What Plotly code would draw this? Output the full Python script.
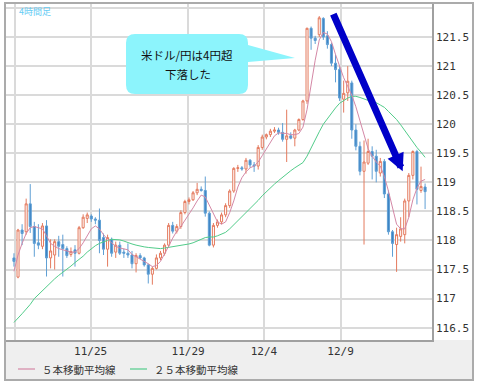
import plotly.graph_objects as go

# ---------------- data ----------------
opens = [117.70,117.37,118.18,118.15,118.63,118.24,117.96,117.90,118.25,117.70,
         117.75,117.98,117.93,117.86,117.76,117.84,117.78,118.22,118.38,118.42,
         118.37,118.35,118.05,117.85,118.02,117.80,117.92,117.80,117.78,117.75,
         117.60,117.74,117.70,117.58,117.42,117.52,117.70,117.78,117.92,118.26,
         118.16,118.24,118.48,118.67,118.70,118.82,118.88,118.86,118.47,117.92,
         118.26,118.32,118.44,118.60,118.85,119.24,119.25,119.23,119.38,119.30,
         119.28,119.60,119.78,119.82,119.88,119.90,119.86,119.74,119.80,119.76,
         119.90,120.08,120.40,121.65,121.48,121.54,121.82,121.52,121.37,121.05,
         120.94,120.43,120.54,120.71,119.90,119.62,119.19,119.33,119.53,119.45,
         119.16,119.36,118.80,118.15,117.93,118.07,118.10,118.68,119.12,119.53,
         118.86,118.92]
highs = [117.78,118.20,118.28,118.72,118.97,118.32,118.28,118.30,118.35,118.02,
         118.02,118.08,118.10,117.90,117.88,117.92,118.25,118.45,118.48,118.45,
         118.40,118.55,118.12,118.10,118.05,117.98,117.98,117.86,117.95,117.82,
         117.78,117.78,117.72,117.60,117.55,117.76,117.82,117.95,118.30,118.32,
         118.28,118.52,118.70,118.74,118.85,118.99,118.93,119.10,118.50,118.30,
         118.36,118.48,118.64,118.88,119.26,119.30,119.28,119.42,119.40,119.35,
         119.64,119.82,119.84,119.92,119.95,119.94,120.02,120.25,119.86,119.92,
         120.10,120.42,121.66,121.68,121.52,121.86,121.84,121.60,121.40,121.20,
         121.00,120.75,121.00,120.75,120.00,119.70,119.72,119.75,119.62,119.56,
         119.42,119.40,118.86,118.18,118.22,118.40,118.72,119.16,119.55,119.56,
         119.27,118.98]
lows = [117.55,117.35,117.92,118.10,118.13,117.72,117.85,117.85,117.38,117.52,
        117.50,117.72,117.38,117.70,117.72,117.55,117.76,118.20,118.30,118.32,
        118.28,117.78,117.75,117.55,117.72,117.70,117.75,117.70,117.70,117.52,
        117.45,117.68,117.55,117.26,117.24,117.50,117.66,117.74,117.88,118.12,
        118.12,118.20,118.45,118.62,118.68,118.78,118.84,118.41,117.90,117.88,
        118.22,118.28,118.40,118.56,118.82,119.18,119.20,119.15,119.25,119.18,
        119.22,119.56,119.74,119.78,119.85,119.82,119.70,119.35,119.74,119.62,
        119.88,120.06,120.35,121.28,121.38,121.50,121.45,121.30,121.00,120.72,
        120.40,120.20,120.40,119.75,119.55,119.12,117.93,119.30,119.05,119.00,
        119.10,118.73,118.10,117.72,117.46,117.98,117.95,118.40,119.05,118.62,
        118.82,118.54]
closes = [117.64,118.18,118.12,118.63,118.24,117.95,117.92,118.25,117.70,117.82,
          117.98,117.90,117.86,117.74,117.81,117.78,118.22,118.40,118.44,118.37,
          118.35,118.00,117.85,118.05,117.78,117.92,117.78,117.78,117.75,117.60,
          117.74,117.70,117.58,117.42,117.52,117.70,117.78,117.92,118.26,118.16,
          118.24,118.48,118.67,118.70,118.82,118.88,118.86,118.47,117.92,118.26,
          118.32,118.44,118.60,118.85,119.24,119.25,119.23,119.38,119.30,119.28,
          119.60,119.78,119.82,119.88,119.90,119.86,119.74,119.80,119.76,119.90,
          120.08,120.40,121.65,121.48,121.44,121.83,121.50,121.37,121.05,120.94,
          120.45,120.53,120.74,119.90,119.62,119.19,119.35,119.53,119.45,119.19,
          119.36,118.80,118.15,117.95,118.10,118.20,118.68,119.12,119.53,118.88,
          118.93,118.84]
ma5 = [117.47,117.75,117.95,118.12,118.22,118.24,118.22,118.20,118.08,117.95,
       117.90,117.86,117.84,117.82,117.80,117.80,117.86,117.96,118.08,118.20,
       118.25,118.20,118.10,118.02,117.96,117.90,117.87,117.85,117.84,117.76,
       117.72,117.68,117.65,117.60,117.55,117.57,117.64,117.76,117.90,118.04,
       118.16,118.24,118.34,118.45,118.56,118.68,118.78,118.75,118.60,118.45,
       118.32,118.28,118.32,118.48,118.68,118.92,119.08,119.18,119.25,119.28,
       119.35,119.46,119.58,119.70,119.80,119.85,119.85,119.84,119.82,119.82,
       119.84,119.95,120.25,120.70,121.10,121.45,121.58,121.55,121.42,121.20,
       121.00,120.80,120.65,120.50,120.30,120.05,119.80,119.58,119.45,119.35,
       119.28,119.10,118.85,118.55,118.28,118.20,118.20,118.40,118.70,118.90,
       119.02,119.05]
ma25 = [116.59,116.66,116.74,116.82,116.90,117.00,117.07,117.13,117.20,117.28,
        117.34,117.40,117.45,117.50,117.56,117.62,117.67,117.73,117.80,117.86,
        117.91,117.95,117.98,118.00,118.02,118.02,118.01,117.99,117.96,117.94,
        117.92,117.90,117.89,117.88,117.87,117.86,117.86,117.87,117.88,117.89,
        117.90,117.91,117.92,117.94,117.96,117.99,118.02,118.05,118.06,118.06,
        118.08,118.11,118.14,118.20,118.27,118.33,118.40,118.47,118.54,118.61,
        118.69,118.77,118.84,118.91,118.97,119.03,119.09,119.15,119.20,119.25,
        119.30,119.34,119.45,119.60,119.74,119.87,120.00,120.10,120.20,120.28,
        120.36,120.41,120.45,120.48,120.48,120.46,120.43,120.41,120.39,120.37,
        120.33,120.29,120.22,120.15,120.08,119.99,119.89,119.80,119.70,119.60,
        119.52,119.43]
bars = list(range(len(opens)))

x_tick_pos = [0.25, 18.84, 42.8, 61.4, 80.25]
x_tick_labels = ["", "11/25", "11/29", "12/4", "12/9"]
y_tick_vals = [116.5, 117.0, 117.5, 118.0, 118.5, 119.0, 119.5, 120.0, 120.5, 121.0, 121.5, 122.0]
y_tick_labels = ["116.5", "117", "117.5", "118", "118.5", "119", "119.5", "120", "120.5", "121", "121.5", ""]
legend_labels = ["５本移動平均線", "２５本移動平均線"]
chart_note = "4時間足"
callout_lines = ["米ドル/円は4円超", "下落した"]
arrow_tail = (78.3, 121.92)
arrow_tip = (95.5, 119.19)

W, H = 478, 385
def px(x): return x / W
def py(y): return 1 - y / H

UP = "#e47a5e"
DOWN_LINE = "#5f9fd4"
DOWN_FILL = "#3d84c4"
PINK = "#d488a6"
GREEN = "#52cc8a"
GRID = "#dadada"

fig = go.Figure()
fig.add_trace(go.Candlestick(
    x=bars, open=opens, high=highs, low=lows, close=closes,
    increasing=dict(line=dict(color=UP, width=1), fillcolor="white"),
    decreasing=dict(line=dict(color=DOWN_LINE, width=1), fillcolor=DOWN_FILL),
    whiskerwidth=0, hoverinfo="skip", showlegend=False))
fig.add_trace(go.Scatter(x=bars, y=ma25, mode="lines", line=dict(color=GREEN, width=1),
                         hoverinfo="skip", showlegend=False))
fig.add_trace(go.Scatter(x=bars, y=ma5, mode="lines", line=dict(color=PINK, width=1),
                         hoverinfo="skip", showlegend=False))

shapes = []
shapes.append(dict(type="rect", xref="paper", yref="paper", x0=px(5), x1=px(473), y0=py(380), y1=py(340),
                   fillcolor="#efefef", line=dict(width=0), layer="below"))
shapes.append(dict(type="rect", xref="paper", yref="paper", x0=px(5), x1=px(473), y0=py(380), y1=py(3),
                   fillcolor="rgba(0,0,0,0)", line=dict(color="#ababab", width=2), layer="above"))
shapes.append(dict(type="line", xref="paper", yref="paper", x0=px(18), x1=px(35), y0=py(369), y1=py(369),
                   line=dict(color=PINK, width=1.2)))
shapes.append(dict(type="line", xref="paper", yref="paper", x0=px(130), x1=px(147), y0=py(369), y1=py(369),
                   line=dict(color=GREEN, width=1.2)))
pts = ("M {a},{b} L {c},{b} Q {r},{b} {r},{d} L {r},{e} L {tx},{ty} L {r},{f} L {r},{g} "
       "Q {r},{bt} {c},{bt} L {a},{bt} Q {l},{bt} {l},{g} L {l},{d} Q {l},{b} {a},{b} Z")
l, r, t, btm, rad = 126, 248, 34, 94, 9
path = pts.format(a=px(l + rad), c=px(r - rad), b=py(t), r=px(r), d=py(t + rad), e=py(45),
                  tx=px(295), ty=py(58), f=py(62), g=py(btm - rad), bt=py(btm), l=px(l))
shapes.append(dict(type="path", xref="paper", yref="paper", path=path,
                   fillcolor="#8cf4fc", line=dict(width=0), layer="above"))

annotations = [
    dict(x=px(16.5), y=py(11.5), xref="paper", yref="paper", text=chart_note, showarrow=False,
         xanchor="left", yanchor="middle", font=dict(family="Noto Sans CJK JP", size=9, color="#66ccf4")),
    dict(x=px(187), y=py(54.5), xref="paper", yref="paper", text=callout_lines[0], showarrow=False,
         xanchor="center", yanchor="middle", font=dict(family="Noto Sans CJK JP", size=11.5, color="#111")),
    dict(x=px(188), y=py(74), xref="paper", yref="paper", text=callout_lines[1], showarrow=False,
         xanchor="center", yanchor="middle", font=dict(family="Noto Sans CJK JP", size=11.5, color="#111")),
    dict(x=px(40), y=py(369), xref="paper", yref="paper", text=legend_labels[0], showarrow=False,
         xanchor="left", yanchor="middle", font=dict(family="Noto Sans CJK JP", size=10.5, color="#333")),
    dict(x=px(152), y=py(369), xref="paper", yref="paper", text=legend_labels[1], showarrow=False,
         xanchor="left", yanchor="middle", font=dict(family="Noto Sans CJK JP", size=10.5, color="#333")),
    dict(x=arrow_tip[0], y=arrow_tip[1], ax=arrow_tail[0], ay=arrow_tail[1],
         xref="x", yref="y", axref="x", ayref="y", text="", showarrow=True,
         arrowhead=2, arrowsize=0.5, arrowwidth=7, arrowcolor="#0000c8", standoff=0),
]

fig.update_layout(
    width=W, height=H, margin=dict(l=0, r=0, t=0, b=0),
    paper_bgcolor="white", plot_bgcolor="white", showlegend=False,
    hovermode=False, boxgap=0.28,
    shapes=shapes, annotations=annotations,
    xaxis=dict(domain=[px(5), px(432)], range=[-2.2, 102.7], tickmode="array",
               tickvals=x_tick_pos, ticktext=x_tick_labels, showgrid=True, gridcolor=GRID,
               gridwidth=1.5, zeroline=False, showline=True, linecolor="#a0a0a0", linewidth=1.5,
               ticks="", tickfont=dict(family="DejaVu Sans Mono", size=11, color="#333"),
               rangeslider=dict(visible=False), fixedrange=True),
    yaxis=dict(domain=[py(340), py(3)], range=[116.288, 122.085], side="right", tickmode="array",
               tickvals=y_tick_vals, ticktext=y_tick_labels, showgrid=True, gridcolor=GRID,
               gridwidth=1.5, zeroline=False, showline=True, linecolor="#a0a0a0", linewidth=1.5,
               ticks="", ticklabelstandoff=0,
               tickfont=dict(family="DejaVu Sans Mono", size=11, color="#333"),
               fixedrange=True),
)

fig.write_html("out.html", config={"displayModeBar": False},
               post_script="document.body.style.margin='0';document.body.style.overflow='hidden';")
